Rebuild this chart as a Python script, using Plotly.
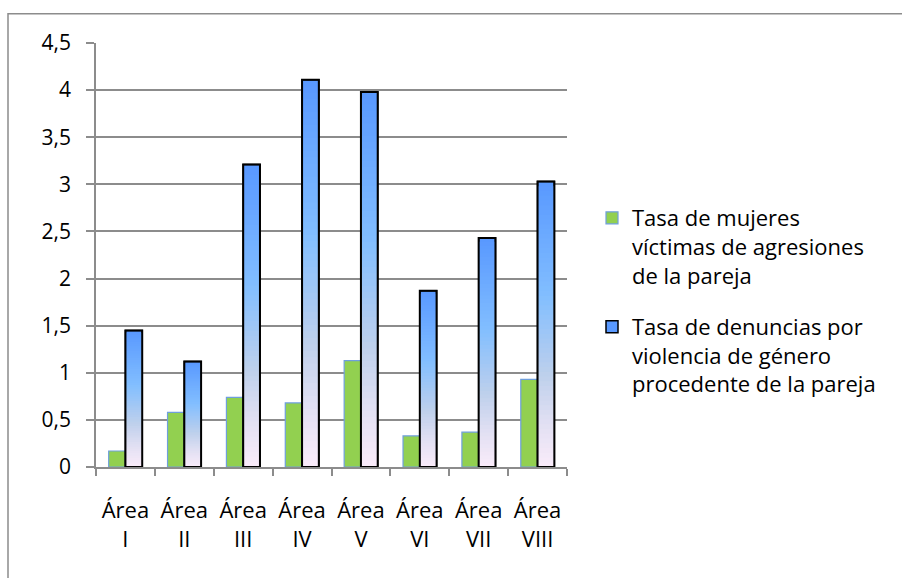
import plotly.graph_objects as go

categories = ["Área<br>I", "Área<br>II", "Área<br>III", "Área<br>IV",
              "Área<br>V", "Área<br>VI", "Área<br>VII", "Área<br>VIII"]
victimas = [0.17, 0.58, 0.74, 0.68, 1.13, 0.33, 0.37, 0.93]
denuncias = [1.45, 1.12, 3.21, 4.11, 3.98, 1.87, 2.43, 3.03]
name_victimas = "Tasa de mujeres<br>víctimas de agresiones<br>de la pareja"
name_denuncias = "Tasa de denuncias por<br>violencia de género<br>procedente de la pareja"

# layout geometry (pixels)
W, H = 902, 578
L, R, T, B = 96, 567, 43.3, 466.7
pw, ph = R - L, B - T


def px(x):
    return (x - L) / pw


def py(y):
    return (B - y) / ph


# gradient stops: (fraction from bottom, rgb)
stops = [(0.0, (250, 236, 250)), (0.15, (226, 224, 243)), (0.32, (190, 208, 236)),
         (0.6, (130, 190, 255)), (1.0, (88, 152, 255))]


def grad(f):
    for (f0, c0), (f1, c1) in zip(stops[:-1], stops[1:]):
        if f0 <= f <= f1:
            t = (f - f0) / (f1 - f0)
            return "rgb(%d,%d,%d)" % tuple(round(a + (b - a) * t) for a, b in zip(c0, c1))
    return "rgb(%d,%d,%d)" % stops[-1][1]


bw = 0.285
fig = go.Figure()
fig.add_trace(go.Bar(
    x=categories, y=victimas, name=name_victimas, legendgroup="a",
    offset=-bw, width=bw,
    marker=dict(color="#92D050", line=dict(color="#6F9FDC", width=1.2)),
))

N = 60
for k in range(N):
    frac = 1 - k / N
    fig.add_trace(go.Bar(
        x=categories, y=[v * frac for v in denuncias],
        name=name_denuncias, legendgroup="b", showlegend=(k == 0),
        offset=0, width=bw,
        marker=dict(color=grad(frac - 0.5 / N),
                    line=dict(color="black", width=1.5 if k == 0 else 0)),
        hoverinfo="skip" if k else None,
    ))
fig.add_trace(go.Bar(
    x=categories, y=denuncias, showlegend=False, legendgroup="b",
    offset=0, width=bw, hoverinfo="skip",
    marker=dict(color="rgba(0,0,0,0)", line=dict(color="black", width=2)),
))

font = "'Open Sans', 'Noto Sans', sans-serif"
fig.update_layout(
    width=W, height=H, barmode="overlay",
    margin=dict(l=L, r=W - R, t=T, b=H - B),
    paper_bgcolor="white", plot_bgcolor="white",
    separators=",.",
    font=dict(family=font, size=22, color="black"),
    legend=dict(x=px(592), y=py(301), xanchor="left", yanchor="middle",
                valign="top", traceorder="grouped", tracegroupgap=20,
                font=dict(family=font, size=22, color="black"),
                bgcolor="rgba(0,0,0,0)"),
    shapes=[dict(type="rect", xref="paper", yref="paper",
                 x0=px(8), x1=px(910), y0=py(590), y1=py(14),
                 line=dict(color="#8c8c8c", width=1.5), layer="below")],
)
fig.update_xaxes(
    showline=True, linecolor="#8c8c8c", linewidth=1.5,
    ticks="outside", tickson="boundaries", ticklen=7, tickcolor="#8c8c8c", tickwidth=1.5,
    ticklabelstandoff=23, showgrid=False,
    tickfont=dict(family=font, size=22, color="black"),
)
fig.update_yaxes(
    range=[0, 4.5], dtick=0.5, tick0=0,
    showline=True, linecolor="#8c8c8c", linewidth=1.5,
    showgrid=True, gridcolor="#8c8c8c", gridwidth=1.5, zeroline=False,
    ticks="outside", ticklen=8, tickcolor="#8c8c8c", tickwidth=1.5,
    ticklabelstandoff=11,
    tickfont=dict(family=font, size=21, color="black"),
)

fig.write_html("out.html", config={"displayModeBar": False},
               post_script="document.body.style.margin='0';")
